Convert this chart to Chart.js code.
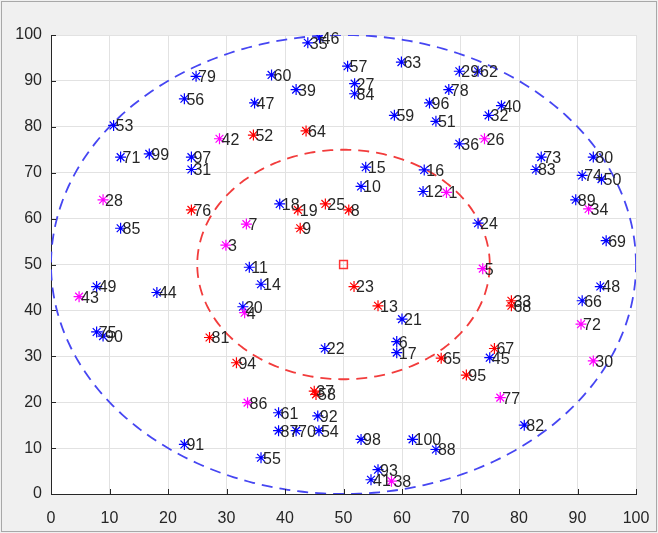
<!DOCTYPE html>
<html>
<head>
<meta charset="utf-8">
<script src="https://cdn.jsdelivr.net/npm/chart.js@4/dist/chart.umd.min.js"></script>
<style>
  html, body { margin: 0; padding: 0; background: #f0f0f0; }
  canvas { display: block; }
</style>
</head>
<body>
<canvas id="c" width="658" height="533"></canvas>
<script>
// Sensor nodes: id, position and class (b = normal, r = inner, m = flagged)
const nodeIds = [79,56,53,71,99,97,31,35,46,60,39,47,57,27,84,63,59,96,51,15,16,10,
  29,62,78,40,32,36,73,83,80,74,50,85,49,44,75,90,20,11,18,12,14,21,89,24,69,48,66,
  91,22,6,17,61,92,87,70,54,98,100,88,55,93,41,45,82,
  52,64,76,19,25,8,9,23,13,81,94,37,58,65,67,95,33,68,
  42,26,28,3,7,43,4,1,34,5,72,30,77,86,38];
const nodeX = [24.8,22.8,10.7,11.9,16.8,24.0,24.0,43.9,45.9,37.7,41.9,34.8,50.7,51.9,51.9,59.9,58.7,64.7,65.8,53.8,63.8,53.0,
  69.8,73.0,68.0,77.0,74.8,69.8,83.8,82.9,92.7,90.8,94.1,11.9,7.8,18.1,7.8,8.9,32.8,33.9,39.1,63.6,35.9,60.0,89.7,73.0,94.9,93.9,90.8,
  22.8,46.8,59.1,59.1,38.9,45.6,38.9,41.9,45.8,53.0,61.8,65.8,35.9,55.9,54.7,75.0,80.9,
  34.6,43.6,24.0,42.2,46.9,50.9,42.6,51.8,55.9,27.1,31.7,45.0,45.3,66.7,75.8,71.0,78.7,78.7,
  28.8,74.1,8.9,29.9,33.4,4.8,33.1,67.6,91.9,73.8,90.6,92.7,76.8,33.6,58.2];
const nodeY = [91.0,86.1,80.3,73.4,74.1,73.4,70.7,98.3,99.4,91.3,88.1,85.2,93.2,89.4,87.2,94.1,82.5,85.2,81.2,71.2,70.6,67.0,
  92.1,92.1,88.1,84.6,82.5,76.3,73.4,70.7,73.4,69.4,68.6,57.9,45.2,43.9,35.3,34.4,40.8,49.4,63.2,65.9,45.7,38.1,64.1,59.0,55.2,45.2,42.1,
  10.8,31.7,33.2,30.8,17.7,17.0,13.8,13.8,13.8,11.9,11.9,9.7,7.9,5.3,3.1,29.7,15.0,
  78.2,79.1,61.9,61.9,63.2,61.9,57.9,45.2,41.0,34.1,28.6,22.4,21.7,29.6,31.7,25.9,42.1,41.0,
  77.4,77.4,64.1,54.2,58.8,43.0,39.5,65.7,62.1,49.1,37.0,29.0,21.0,19.9,2.8];
const nodeClass = [
  'b','b','b','b','b','b','b','b','b','b','b','b','b','b','b','b','b','b','b','b','b','b',
  'b','b','b','b','b','b','b','b','b','b','b','b','b','b','b','b','b','b','b','b','b','b','b','b','b','b','b',
  'b','b','b','b','b','b','b','b','b','b','b','b','b','b','b','b','b',
  'r','r','r','r','r','r','r','r','r','r','r','r','r','r','r','r','r','r',
  'm','m','m','m','m','m','m','m','m','m','m','m','m','m','m'];

// Field centre and the two coverage rings
const fieldCenter = [50, 50];
const ringRadii = [50, 25];
const axisTicks = [0,10,20,30,40,50,60,70,80,90,100];

const classColor = { b: '#0000ff', r: '#ff0000', m: '#ff00ff' };

function ring(r) {
  const pts = [];
  for (let i = 0; i <= 360; i++) {
    const a = i * Math.PI / 180;
    pts.push({ x: fieldCenter[0] + r * Math.cos(a), y: fieldCenter[1] + r * Math.sin(a) });
  }
  return pts;
}

function nodesOf(cls) {
  const pts = [];
  nodeIds.forEach((id, i) => {
    if (nodeClass[i] === cls) pts.push({ x: nodeX[i], y: nodeY[i], id: id });
  });
  return pts;
}

const nodeSets = ['b', 'r', 'm'].map((cls, k) => ({
  type: 'scatter',
  label: cls,
  data: nodesOf(cls),
  pointStyle: 'star',
  pointRadius: 5.5,
  pointBorderWidth: 1.2,
  borderColor: classColor[cls],
  backgroundColor: classColor[cls],
  order: 3 - k,
  isNode: true
}));

const fontFam = '"Liberation Sans", Arial, Helvetica, sans-serif';

// Page background, white axes area and frame
const backdrop = {
  id: 'backdrop',
  beforeDraw(chart) {
    const { ctx, chartArea: a } = chart;
    ctx.save();
    ctx.fillStyle = '#f0f0f0';
    ctx.fillRect(0, 0, chart.width, chart.height);
    ctx.fillStyle = '#ffffff';
    ctx.fillRect(a.left, a.top, a.right - a.left, a.bottom - a.top);
    ctx.strokeStyle = '#a8a8a8';
    ctx.lineWidth = 1;
    ctx.strokeRect(1.5, 1.5, chart.width - 3, chart.height - 3);
    ctx.restore();
  }
};

// Inward tick marks on the left and bottom axes
const innerTicks = {
  id: 'innerTicks',
  afterDatasetsDraw(chart) {
    const { ctx, chartArea: a, scales } = chart;
    ctx.save();
    ctx.strokeStyle = '#262626';
    ctx.lineWidth = 1;
    ctx.beginPath();
    axisTicks.forEach(v => {
      const px = Math.round(scales.x.getPixelForValue(v)) + 0.5;
      ctx.moveTo(px, a.bottom);
      ctx.lineTo(px, a.bottom - 5);
      const py = Math.round(scales.y.getPixelForValue(v)) + 0.5;
      ctx.moveTo(a.left, py);
      ctx.lineTo(a.left + 5, py);
    });
    ctx.stroke();
    ctx.restore();
  }
};

// Node id next to each marker
const nodeLabels = {
  id: 'nodeLabels',
  afterDatasetsDraw(chart) {
    const { ctx } = chart;
    ctx.save();
    ctx.font = '16px ' + fontFam;
    ctx.fillStyle = '#262626';
    ctx.textAlign = 'left';
    ctx.textBaseline = 'middle';
    chart.data.datasets.forEach((ds, di) => {
      if (!ds.isNode) return;
      const meta = chart.getDatasetMeta(di);
      meta.data.forEach((el, i) => {
        ctx.fillText(String(ds.data[i].id), el.x + 2, el.y + 1.5);
      });
    });
    ctx.restore();
  }
};

new Chart(document.getElementById('c'), {
  type: 'scatter',
  data: {
    datasets: [
      ...nodeSets,
      {
        type: 'scatter',
        label: 'centre',
        data: [{ x: fieldCenter[0], y: fieldCenter[1] }],
        pointStyle: 'rect',
        pointRadius: 5.5,
        pointBorderWidth: 1.5,
        borderColor: '#ff3333',
        backgroundColor: 'rgba(0,0,0,0)',
        order: 4
      },
      {
        type: 'line',
        label: 'outer ring',
        data: ring(ringRadii[0]),
        borderColor: '#4646f2',
        borderWidth: 1.8,
        borderDash: [11, 7],
        pointRadius: 0,
        fill: false,
        tension: 0,
        order: 6
      },
      {
        type: 'line',
        label: 'inner ring',
        data: ring(ringRadii[1]),
        borderColor: '#f23c3c',
        borderWidth: 1.8,
        borderDash: [11, 7],
        pointRadius: 0,
        fill: false,
        tension: 0,
        order: 5
      }
    ]
  },
  options: {
    responsive: false,
    devicePixelRatio: 1,
    animation: false,
    layout: { padding: { top: 35, right: 22, left: 0, bottom: 0 } },
    plugins: { legend: { display: false }, tooltip: { enabled: false } },
    scales: {
      x: {
        type: 'linear', min: 0, max: 100,
        afterBuildTicks: s => { s.ticks = axisTicks.map(v => ({ value: v })); },
        afterFit: s => { s.height = 39; s.paddingLeft = 0; s.paddingRight = 0; },
        ticks: { font: { size: 16, family: fontFam }, color: '#262626', padding: 15, maxRotation: 0 },
        grid: { color: '#e2e2e2', lineWidth: 1, drawTicks: false },
        border: { display: true, color: '#262626', width: 1 }
      },
      y: {
        type: 'linear', min: 0, max: 100,
        afterBuildTicks: s => { s.ticks = axisTicks.map(v => ({ value: v })); },
        afterFit: s => { s.width = 51; s.paddingTop = 0; s.paddingBottom = 0; },
        ticks: { font: { size: 16, family: fontFam }, color: '#262626', padding: 9 },
        grid: { color: '#e2e2e2', lineWidth: 1, drawTicks: false },
        border: { display: true, color: '#262626', width: 1 }
      }
    }
  },
  plugins: [backdrop, innerTicks, nodeLabels]
});
</script>
</body>
</html>
